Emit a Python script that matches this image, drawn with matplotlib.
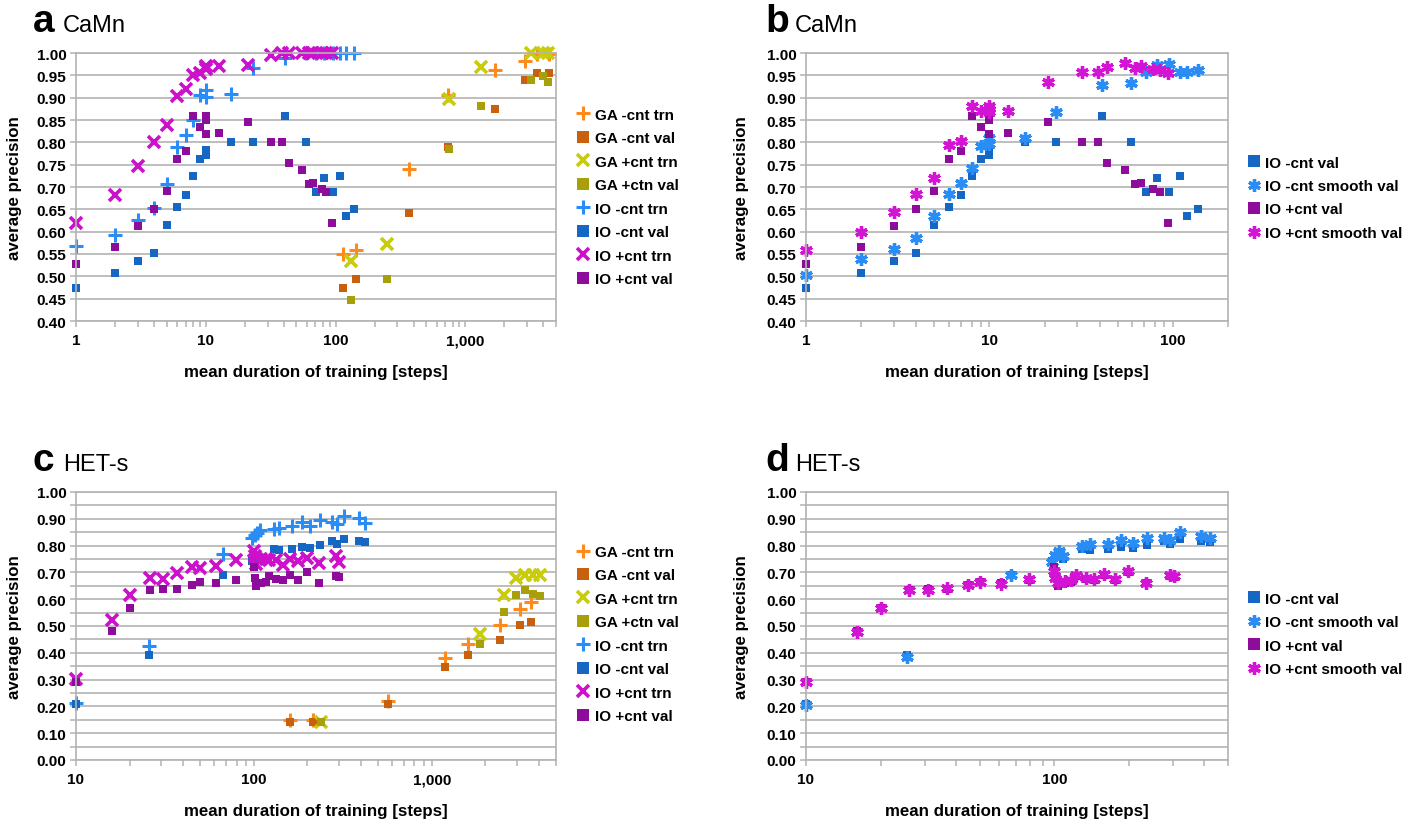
import numpy as np
import matplotlib
matplotlib.use('Agg')
import matplotlib.pyplot as plt
from matplotlib.ticker import FixedLocator, LogLocator, NullFormatter, FuncFormatter

plt.rcParams['font.family'] = ['Liberation Sans', 'DejaVu Sans']

# ---------------- CaMn data ----------------
# IO without contrast (shared by panels a and b)
camn_io_m_x = [1, 2, 3, 4, 5, 6, 7, 8, 9, 10, 10, 15.7, 23, 41, 59, 71, 82, 95, 109, 120, 138]
camn_io_m_trn = [0.568, 0.593, 0.627, 0.653, 0.707, 0.789, 0.817, 0.849, 0.905, 0.918, 0.901,
                 0.908, 0.966, 0.988, 1.0, 1.0, 1.0, 1.0, 1.0, 1.0, 1.0]
camn_io_m_val = [0.473, 0.508, 0.534, 0.553, 0.616, 0.655, 0.683, 0.724, 0.763, 0.772, 0.782,
                 0.80, 0.80, 0.86, 0.80, 0.689, 0.72, 0.689, 0.724, 0.634, 0.651]
camn_io_m_smooth = [0.504, 0.538, 0.562, 0.586, 0.636, 0.685, 0.709, 0.742, 0.791, 0.797, 0.809,
                    0.81, 0.869, 0.928, 0.933, 0.957, 0.973, 0.975, 0.957, 0.957, 0.963]

# IO with contrast
camn_io_p_x = [1, 2, 3, 4, 5, 6, 7, 8, 9, 10, 10, 10, 12.6, 21, 32, 39, 44, 55, 62, 67, 78, 85, 94]
camn_io_p_trn = [0.62, 0.681, 0.747, 0.80, 0.839, 0.903, 0.92, 0.951, 0.955, 0.964, 0.972, 0.968,
                 0.972, 0.973, 0.996, 1.0, 1.0, 1.0, 1.0, 1.0, 1.0, 1.0, 1.0]
camn_io_p_val = [0.528, 0.566, 0.613, 0.651, 0.69, 0.762, 0.78, 0.86, 0.835, 0.858, 0.85, 0.819,
                 0.821, 0.845, 0.80, 0.80, 0.754, 0.739, 0.706, 0.709, 0.696, 0.689, 0.62]
camn_io_p_smooth = [0.558, 0.60, 0.645, 0.685, 0.72, 0.793, 0.804, 0.881, 0.871, 0.881, 0.867, 0.875,
                    0.871, 0.936, 0.958, 0.957, 0.968, 0.978, 0.966, 0.97, 0.964, 0.962, 0.955]

# GA
camn_ga_m_x = [114, 144, 371, 731, 1700, 2870, 3600, 4430]
camn_ga_m_trn = [0.549, 0.56, 0.741, 0.905, 0.963, 0.981, 0.998, 0.998]
camn_ga_m_val = [0.474, 0.495, 0.642, 0.789, 0.875, 0.94, 0.955, 0.955]
camn_ga_p_x = [132, 248, 745, 1320, 3200, 3940, 4370]
camn_ga_p_trn = [0.534, 0.573, 0.896, 0.968, 1.0, 1.0, 1.0]
camn_ga_p_val = [0.446, 0.493, 0.785, 0.881, 0.94, 0.949, 0.936]

# ---------------- HET-s data ----------------
het_io_m_x = [10, 25.6, 67, 98, 101, 104, 108, 129, 139, 164, 186, 208, 235, 275, 292, 320, 390, 423]
het_io_m_trn = [0.213, 0.425, 0.77, 0.828, 0.84, 0.848, 0.857, 0.863, 0.865, 0.875, 0.888, 0.875,
                0.894, 0.888, 0.88, 0.91, 0.903, 0.885]
het_io_m_val = [0.209, 0.392, 0.691, 0.741, 0.76, 0.763, 0.75, 0.786, 0.782, 0.788, 0.795, 0.791,
                0.803, 0.816, 0.807, 0.823, 0.816, 0.813]
het_io_m_smooth = [0.205, 0.384, 0.69, 0.74, 0.765, 0.78, 0.76, 0.80, 0.807, 0.807, 0.82, 0.81,
                   0.828, 0.828, 0.82, 0.85, 0.836, 0.828]

het_io_p_x = [10, 16, 20, 26, 31, 37, 45, 50, 61, 79, 100, 101, 103, 110, 117, 122, 134, 145, 159,
              176, 198, 233, 291, 302]
het_io_p_trn = [0.303, 0.524, 0.614, 0.679, 0.674, 0.697, 0.72, 0.716, 0.724, 0.745, 0.778, 0.76,
                0.732, 0.75, 0.751, 0.745, 0.748, 0.729, 0.751, 0.741, 0.753, 0.736, 0.763, 0.738]
het_io_p_val = [0.29, 0.481, 0.567, 0.635, 0.639, 0.639, 0.654, 0.666, 0.66, 0.672, 0.72, 0.679,
                0.649, 0.661, 0.665, 0.685, 0.676, 0.67, 0.691, 0.672, 0.701, 0.661, 0.686, 0.682]
het_io_p_smooth = [0.29, 0.477, 0.567, 0.633, 0.636, 0.641, 0.654, 0.664, 0.658, 0.674, 0.704, 0.68,
                   0.66, 0.667, 0.67, 0.689, 0.679, 0.674, 0.695, 0.674, 0.704, 0.661, 0.691, 0.686]

het_ga_m_x = [159, 215, 569, 1195, 1600, 2420, 3140, 3630]
het_ga_m_trn = [0.15, 0.15, 0.222, 0.381, 0.433, 0.502, 0.564, 0.589]
het_ga_m_val = [0.143, 0.143, 0.209, 0.346, 0.392, 0.446, 0.502, 0.514]
het_ga_p_x = [240, 1860, 2550, 2990, 3340, 3700, 4050]
het_ga_p_trn = [0.143, 0.471, 0.614, 0.679, 0.689, 0.689, 0.689]
het_ga_p_val = [0.140, 0.433, 0.552, 0.616, 0.633, 0.62, 0.611]

# ---------------- styles ----------------
C_GA_M_TRN = '#ff8a1c'
C_GA_M_VAL = '#c8600e'
C_GA_P_TRN = '#c8cc0a'
C_GA_P_VAL = '#a8a00a'
C_IO_M_TRN = '#2a8cf5'
C_IO_M_VAL = '#1666c4'
C_IO_P_TRN = '#cc10cc'
C_IO_P_VAL = '#8e0c9c'
C_IO_M_SM = '#2a8cf5'
C_IO_P_SM = '#d414d4'
GRID = '#b3b3b3'

PLUS = dict(marker='+', ms=10, mew=2.2, ls='none', clip_on=False)
CROSS = dict(marker='x', ms=8.5, mew=2.6, ls='none', clip_on=False)
SQUARE = dict(marker='s', ms=6, mew=0, ls='none', clip_on=False)
STAR = dict(marker=(6, 2, 0), ms=9, mew=2.4, ls='none', clip_on=False)

fig = plt.figure(figsize=(14.24, 8.2), dpi=100)
W, H = 1424.0, 820.0


def make_axes(left, right, top, bottom):
    return fig.add_axes([left / W, 1 - bottom / H, (right - left) / W, (bottom - top) / H])


def style_axes(ax, xlim, xmajors, ylim, ystep, ylabel_every, ylab_x):
    ax.set_xscale('log')
    ax.set_xlim(*xlim)
    ax.set_ylim(*ylim)
    ax.xaxis.set_major_locator(FixedLocator(xmajors))
    ax.xaxis.set_major_formatter(FuncFormatter(lambda v, p: '{:,.0f}'.format(v)))
    ax.xaxis.set_minor_locator(LogLocator(base=10, subs=np.arange(2, 10)))
    ax.xaxis.set_minor_formatter(NullFormatter())
    yt = np.round(np.arange(ylim[0], ylim[1] + 1e-9, ystep), 2)
    ax.set_yticks(yt)
    ax.set_yticklabels(['{:.2f}'.format(v) if i % ylabel_every == 0 else '' for i, v in enumerate(yt)])
    ax.grid(axis='y', color=GRID, lw=1.2)
    ax.set_axisbelow(True)
    for s in ax.spines.values():
        s.set_color(GRID)
        s.set_linewidth(1.2)
    ax.tick_params(axis='both', which='both', color=GRID, width=1.1, length=4, direction='out')
    ax.tick_params(axis='x', which='major', labelsize=11, pad=5)
    ax.tick_params(axis='y', which='major', labelsize=11, pad=3)
    for lab in ax.get_xticklabels() + ax.get_yticklabels():
        lab.set_fontweight('bold')
    ax.set_xlabel('mean duration of training [steps]', fontsize=12.2, fontweight='bold')
    ax.xaxis.set_label_coords(0.5, -0.16)
    ax.set_ylabel('average precision', fontsize=12.2, fontweight='bold')
    ax.yaxis.set_label_coords(ylab_x, 0.5)


def add_legend(ax, yc):
    leg = ax.legend(loc='center left', bbox_to_anchor=(1.03, yc), frameon=False,
                    handlelength=0.9, handletextpad=0.3, labelspacing=0.62,
                    prop={'weight': 'bold', 'size': 11}, borderaxespad=0)
    for h in leg.legend_handles:
        if h.get_marker() == 's':
            h.set_markersize(8.5)


def panel_title(x, y, letter, name):
    fig.text(x / W, 1 - y / H, letter, fontsize=28, fontweight='bold', ha='left', va='baseline')
    fig.text((x + 30) / W, 1 - y / H, name, fontsize=17, ha='left', va='baseline')


# ---------------- panel a ----------------
ax_a = make_axes(76, 556, 54, 322)
ax_a.plot(camn_ga_m_x, camn_ga_m_trn, color=C_GA_M_TRN, label='GA -cnt trn', **PLUS)
ax_a.plot(camn_ga_m_x, camn_ga_m_val, color=C_GA_M_VAL, label='GA -cnt val', **SQUARE)
ax_a.plot(camn_ga_p_x, camn_ga_p_trn, color=C_GA_P_TRN, label='GA +cnt trn', **CROSS)
ax_a.plot(camn_ga_p_x, camn_ga_p_val, color=C_GA_P_VAL, label='GA +ctn val', **SQUARE)
ax_a.plot(camn_io_m_x, camn_io_m_trn, color=C_IO_M_TRN, label='IO -cnt trn', **PLUS)
ax_a.plot(camn_io_m_x, camn_io_m_val, color=C_IO_M_VAL, label='IO -cnt val', **SQUARE)
ax_a.plot(camn_io_p_x, camn_io_p_trn, color=C_IO_P_TRN, label='IO +cnt trn', **CROSS)
ax_a.plot(camn_io_p_x, camn_io_p_val, color=C_IO_P_VAL, label='IO +cnt val', **SQUARE)
style_axes(ax_a, (1, 5000), [1, 10, 100, 1000], (0.4, 1.0), 0.05, 1, -0.112)
add_legend(ax_a, 0.463)
panel_title(33, 32, 'a', 'CaMn')

# ---------------- panel b ----------------
ax_b = make_axes(806, 1228, 54, 322)
ax_b.plot(camn_io_m_x, camn_io_m_val, color=C_IO_M_VAL, label='IO -cnt val', **SQUARE)
ax_b.plot(camn_io_m_x, camn_io_m_smooth, color=C_IO_M_SM, label='IO -cnt smooth val', **STAR)
ax_b.plot(camn_io_p_x, camn_io_p_val, color=C_IO_P_VAL, label='IO +cnt val', **SQUARE)
ax_b.plot(camn_io_p_x, camn_io_p_smooth, color=C_IO_P_SM, label='IO +cnt smooth val', **STAR)
style_axes(ax_b, (1, 200), [1, 10, 100], (0.4, 1.0), 0.05, 1, -0.135)
add_legend(ax_b, 0.46)
panel_title(765, 32, 'b', 'CaMn')

# ---------------- panel c ----------------
ax_c = make_axes(76, 556, 493, 761)
ax_c.plot(het_ga_m_x, het_ga_m_trn, color=C_GA_M_TRN, label='GA -cnt trn', **PLUS)
ax_c.plot(het_ga_m_x, het_ga_m_val, color=C_GA_M_VAL, label='GA -cnt val', **SQUARE)
ax_c.plot(het_ga_p_x, het_ga_p_trn, color=C_GA_P_TRN, label='GA +cnt trn', **CROSS)
ax_c.plot(het_ga_p_x, het_ga_p_val, color=C_GA_P_VAL, label='GA +ctn val', **SQUARE)
ax_c.plot(het_io_m_x, het_io_m_trn, color=C_IO_M_TRN, label='IO -cnt trn', **PLUS)
ax_c.plot(het_io_m_x, het_io_m_val, color=C_IO_M_VAL, label='IO -cnt val', **SQUARE)
ax_c.plot(het_io_p_x, het_io_p_trn, color=C_IO_P_TRN, label='IO +cnt trn', **CROSS)
ax_c.plot(het_io_p_x, het_io_p_val, color=C_IO_P_VAL, label='IO +cnt val', **SQUARE)
style_axes(ax_c, (10, 5000), [10, 100, 1000], (0.0, 1.0), 0.05, 2, -0.112)
add_legend(ax_c, 0.47)
panel_title(33, 471, 'c', 'HET-s')

# ---------------- panel d ----------------
ax_d = make_axes(806, 1228, 493, 761)
ax_d.plot(het_io_m_x, het_io_m_val, color=C_IO_M_VAL, label='IO -cnt val', **SQUARE)
ax_d.plot(het_io_m_x, het_io_m_smooth, color=C_IO_M_SM, label='IO -cnt smooth val', **STAR)
ax_d.plot(het_io_p_x, het_io_p_val, color=C_IO_P_VAL, label='IO +cnt val', **SQUARE)
ax_d.plot(het_io_p_x, het_io_p_smooth, color=C_IO_P_SM, label='IO +cnt smooth val', **STAR)
style_axes(ax_d, (10, 500), [10, 100], (0.0, 1.0), 0.05, 2, -0.135)
add_legend(ax_d, 0.47)
panel_title(765, 471, 'd', 'HET-s')

fig.savefig('out.png', dpi=100)
